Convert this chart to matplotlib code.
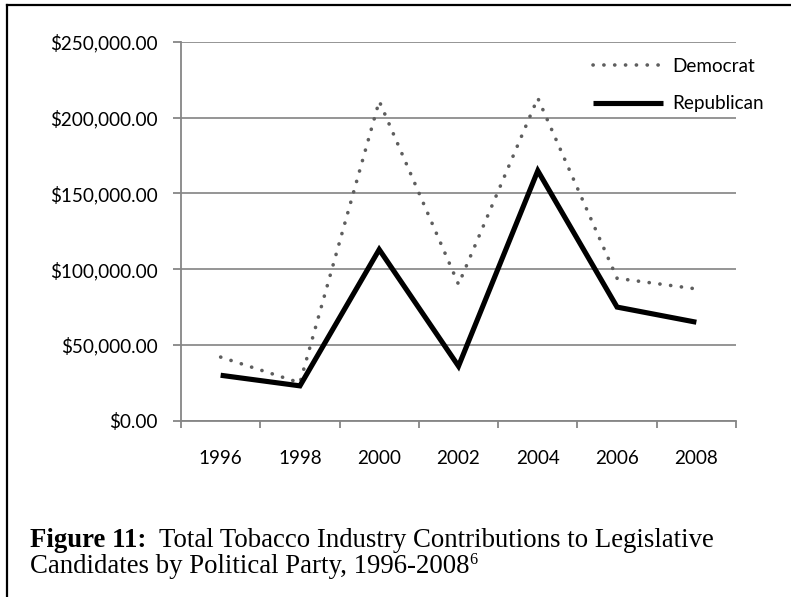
import matplotlib
matplotlib.use("Agg")
import matplotlib.pyplot as plt
from matplotlib.lines import Line2D
from matplotlib.ticker import FuncFormatter

# Campaign contributions by party, per election year
years = ["1996", "1998", "2000", "2002", "2004", "2006", "2008"]
democrat = [42000, 25000, 211000, 90000, 213000, 94000, 87000]
republican = [30000, 23000, 113000, 36000, 165000, 75000, 65000]
y_ticks = [0, 50000, 100000, 150000, 200000, 250000]

W, H, DPI = 791, 597, 100
fig = plt.figure(figsize=(W / DPI, H / DPI), dpi=DPI)
fig.patch.set_facecolor("white")

# frame around the figure (left and top edges visible)
fig.add_artist(Line2D([7 / W, 7 / W], [0, 1 - 5 / H], transform=fig.transFigure,
                      color="black", lw=1.6, solid_capstyle="projecting"))
fig.add_artist(Line2D([7 / W, 1], [1 - 5 / H, 1 - 5 / H], transform=fig.transFigure,
                      color="black", lw=1.6, solid_capstyle="projecting"))

left, right, top, bottom = 181, 736, 42, 420.7
ax = fig.add_axes([left / W, 1 - bottom / H, (right - left) / W, (bottom - top) / H])

x = list(range(len(years)))
ax.plot(x, democrat, color="#5e5e5e", lw=2.6, linestyle=(0, (0.05, 2.95)),
        dash_capstyle="round", label="Democrat", zorder=3)
ax.plot(x, republican, color="black", lw=3.7, solid_joinstyle="miter",
        solid_capstyle="butt", label="Republican", zorder=4)

ax.set_xlim(-0.5, len(years) - 0.5)
ax.set_ylim(0, 250000)

grid_color = "#8c8c8c"
axis_color = "#868686"
for s in ["top", "right"]:
    ax.spines[s].set_visible(False)
for s in ["left", "bottom"]:
    ax.spines[s].set_color(axis_color)
    ax.spines[s].set_linewidth(1.3)

ax.set_yticks(y_ticks)
ax.yaxis.set_major_formatter(FuncFormatter(lambda v, p: f"${v:,.2f}"))
ax.grid(axis="y", color=grid_color, lw=1.3, zorder=0)
ax.set_axisbelow(True)

# category boundaries as tick marks, labels centred on categories
ax.set_xticks([i - 0.5 for i in range(len(years) + 1)])
ax.set_xticklabels([])
ax.set_xticks(x, minor=True)
ax.set_xticklabels(years, minor=True)

tick_font = "Lato"
tick_size = 13.6
ax.tick_params(axis="x", which="major", length=5, width=1.3, color=axis_color, direction="out")
ax.tick_params(axis="x", which="minor", length=0, pad=21, labelsize=tick_size,
               labelfontfamily=tick_font, labelcolor="black")
ax.tick_params(axis="y", length=5.5, width=1.3, color=axis_color, pad=11.5,
               labelsize=tick_size, labelfontfamily=tick_font, labelcolor="black")

leg = ax.legend(loc="upper left", bbox_to_anchor=(593 / W, 1 - 57.5 / H),
                bbox_transform=fig.transFigure, frameon=False, borderpad=0,
                borderaxespad=0, handlelength=3.7, handletextpad=0.5,
                labelspacing=1.1, prop={"family": tick_font, "size": tick_size})

# caption below the chart
cap_font = "Liberation Serif"
cap_size = 19.3
t1 = fig.text(30 / W, 1 - 547 / H, "Figure 11:", fontfamily=cap_font,
              fontweight="bold", fontsize=cap_size, va="baseline", ha="left")
ax.annotate("  Total Tobacco Industry Contributions to Legislative",
            xy=(1, 0), xycoords=t1, va="bottom", ha="left",
            fontfamily=cap_font, fontsize=cap_size, annotation_clip=False)
t2 = fig.text(30 / W, 1 - 573 / H, "Candidates by Political Party, 1996-2008",
              fontfamily=cap_font, fontsize=cap_size, va="baseline", ha="left")
ax.annotate("6", xy=(1, 1), xycoords=t2, xytext=(-0.3, 1.5), textcoords="offset points",
            va="top", ha="left", fontfamily=cap_font, fontsize=cap_size * 0.6,
            annotation_clip=False)

fig.savefig("out.png", dpi=DPI)
